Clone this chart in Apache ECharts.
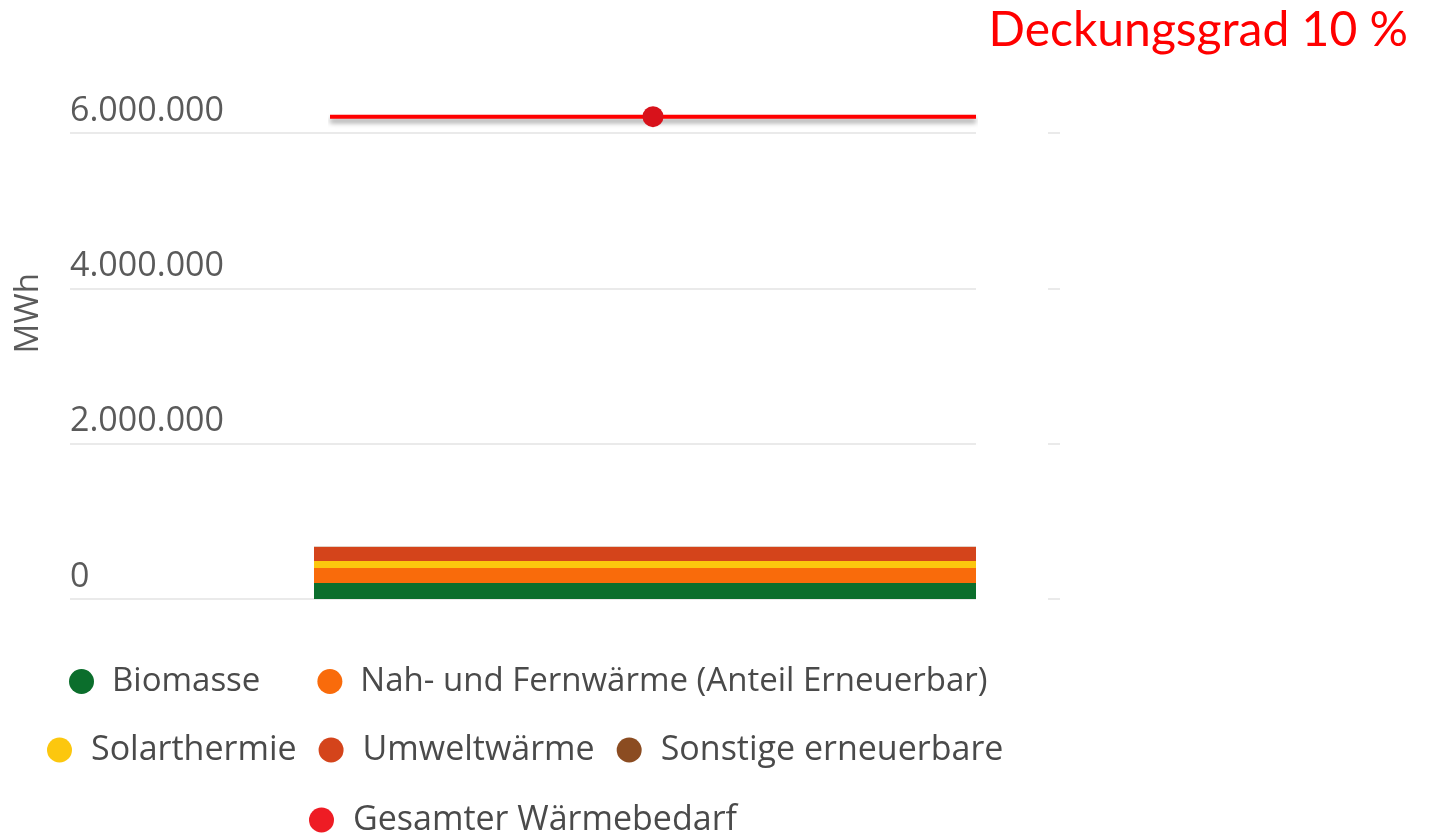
<!DOCTYPE html>
<html>
<head>
<meta charset="utf-8">
<script src="https://cdn.jsdelivr.net/npm/echarts@6/dist/echarts.min.js"></script>
<style>
  html, body { margin: 0; padding: 0; background: #fff; }
  #chart { width: 1429px; height: 835px; }
</style>
</head>
<body>
<div id="chart"></div>
<script>
// Werte in MWh
const category = ["Wärme"];
const biomasse = [206000];
const fernwaerme = [193000];
const solarthermie = [90000];
const umweltwaerme = [180000];
const sonstige = [3000];
const gesamtBedarf = 6210000;
const yTicks = [0, 2000000, 4000000, 6000000];
const titleText = "Deckungsgrad 10 %";

const font = "Open Sans";
const grey = "#5a5a5a";

const yMax = yTicks[yTicks.length - 1];
const yStep = yTicks[1] - yTicks[0];

function fmt(v) {
  return String(v).replace(/\B(?=(\d{3})+(?!\d))/g, ".");
}

const chart = echarts.init(document.getElementById("chart"));

const barSeries = [
  { name: "Biomasse", data: biomasse, color: "#0b6e2c" },
  { name: "Nah- und Fernwärme (Anteil Erneuerbar)", data: fernwaerme, color: "#f96b0b" },
  { name: "Solarthermie", data: solarthermie, color: "#fcc70e" },
  { name: "Umweltwärme", data: umweltwaerme, color: "#d4441b" },
  { name: "Sonstige erneuerbare", data: sonstige, color: "#8b4c21" }
].map(each => {
  return {
    type: "bar",
    name: each.name,
    stack: "ee",
    xAxisIndex: 1,
    yAxisIndex: 2,
    barWidth: "100%",
    data: each.data,
    itemStyle: { color: each.color },
    emphasis: { disabled: true }
  };
});

const legendBase = {
  icon: "circle",
  itemWidth: 25,
  itemHeight: 25,
  selectedMode: false,
  textStyle: {
    fontFamily: font,
    fontSize: 34,
    color: "#4a4a4a",
    padding: [0, 0, 0, 14]
  }
};

const option = {
  animation: false,
  backgroundColor: "#fff",
  title: {
    text: titleText,
    right: 16,
    top: 2,
    textStyle: {
      fontFamily: "Lato",
      fontWeight: "normal",
      fontSize: 48,
      color: "#ff0000"
    }
  },
  graphic: [
    {
      type: "text",
      left: 12,
      top: 273,
      rotation: Math.PI / 2,
      style: {
        text: "MWh",
        font: "33px 'Open Sans'",
        fill: grey
      }
    }
  ],
  legend: [
    Object.assign({}, legendBase, {
      data: ["Biomasse", "Nah- und Fernwärme (Anteil Erneuerbar)"],
      left: 64,
      top: 660,
      itemGap: 57,
      textStyle: Object.assign({}, legendBase.textStyle, { fontSize: 33, padding: [0, 0, 0, 13] })
    }),
    Object.assign({}, legendBase, {
      data: ["Solarthermie", "Umweltwärme", "Sonstige erneuerbare"],
      left: 42,
      top: 728,
      itemGap: 22
    }),
    Object.assign({}, legendBase, {
      data: ["Gesamter Wärmebedarf"],
      left: 304,
      top: 798
    })
  ],
  grid: [
    { left: 70, right: 453, top: 133, bottom: 236 },
    { left: 314, right: 453, top: 133, bottom: 236 },
    { left: 330, right: 453, top: 133, bottom: 236 }
  ],
  xAxis: [
    { type: "category", gridIndex: 0, data: category, show: false },
    { type: "category", gridIndex: 1, data: category, show: false },
    { type: "value", gridIndex: 2, min: 0, max: 2, show: false }
  ],
  yAxis: [
    {
      type: "value",
      gridIndex: 0,
      min: 0,
      max: yMax,
      interval: yStep,
      axisLine: { show: false },
      axisTick: { show: false },
      splitLine: { lineStyle: { color: "#e3e3e3", width: 1.5 } },
      axisLabel: {
        inside: true,
        margin: 0,
        align: "left",
        verticalAlign: "bottom",
        padding: [0, 0, 5, 0],
        fontFamily: font,
        fontSize: 34,
        color: grey,
        formatter: fmt
      }
    },
    {
      type: "value",
      gridIndex: 0,
      position: "right",
      offset: 72,
      min: 0,
      max: yMax,
      interval: yStep,
      axisLine: { show: false },
      axisTick: { show: true, length: 12, lineStyle: { color: "#e3e3e3", width: 1.5 } },
      splitLine: { show: false },
      axisLabel: { show: false }
    },
    { type: "value", gridIndex: 1, min: 0, max: yMax, show: false },
    { type: "value", gridIndex: 2, min: 0, max: yMax, show: false }
  ],
  series: barSeries.concat([
    {
      type: "line",
      name: "Gesamter Wärmebedarf",
      xAxisIndex: 2,
      yAxisIndex: 3,
      clip: false,
      data: [[0, gesamtBedarf], [2, gesamtBedarf]],
      showSymbol: false,
      color: "#ee1c24",
      lineStyle: {
        color: "#ff0000",
        width: 4,
        shadowColor: "rgba(0,0,0,0.4)",
        shadowBlur: 5,
        shadowOffsetY: 4
      },
      z: 4
    },
    {
      type: "scatter",
      name: "Gesamter Wärmebedarf",
      xAxisIndex: 2,
      yAxisIndex: 3,
      clip: false,
      data: [[1, gesamtBedarf]],
      symbol: "circle",
      symbolSize: 21,
      itemStyle: { color: "#d8121b", opacity: 1 },
      z: 5
    }
  ])
};

chart.setOption(option);
</script>
</body>
</html>
